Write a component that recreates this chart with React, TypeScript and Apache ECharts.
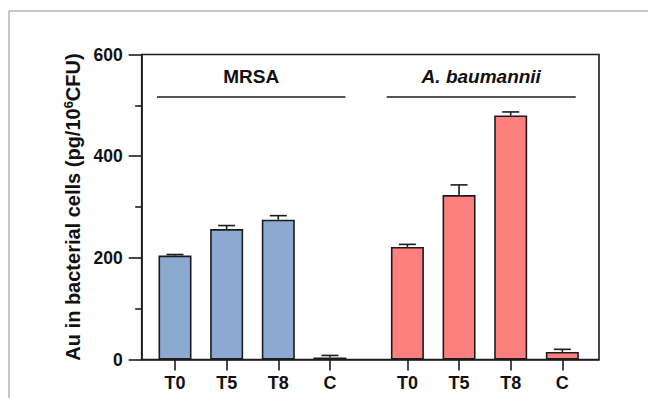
import React, { useEffect, useRef } from "react";
import * as echarts from "echarts";

const categories = ["T0", "T5", "T8", "C", "T0", "T5", "T8", "C"];
const positions = [0, 1, 2, 3, 4.5, 5.5, 6.5, 7.5];
const mrsaMeans = [204.5, 256.5, 275, 4];
const mrsaErrors = [2, 7, 8, 4];
const abauMeans = [221.5, 323.5, 480, 15];
const abauErrors = [5, 20, 7, 5];
const groupNames = ["MRSA", "A. baumannii"];
const groupSpans = [
  [-0.35, 3.3],
  [4.1, 7.76],
];
const groupLineY = 517;
const yTicks = [0, 200, 400, 600];

const BLUE = "#8BA9D1";
const RED = "#FF7F7F";
const INK = "#1c1c1c";
const FONT = "'Liberation Sans', Arial, Helvetica, sans-serif";

export default function App() {
  const ref = useRef<HTMLDivElement>(null);
  useEffect(() => {
    if (!ref.current) return;
    const chart = echarts.init(ref.current, null, { renderer: "svg" });
    const means = [...mrsaMeans, ...abauMeans];
    const errs = [...mrsaErrors, ...abauErrors];
    const barData = positions.map((x, i) => ({
      value: [x, means[i]],
      itemStyle: { color: i < 4 ? BLUE : RED },
    }));
    const errData = positions.map((x, i) => [x, means[i], errs[i]]);
    const labelFor = (v: number) => {
      const idx = positions.findIndex((p) => Math.abs(p - v) < 1e-6);
      return idx >= 0 ? categories[idx] : "";
    };
    chart.setOption({
      animation: false,
      textStyle: { fontFamily: FONT },
      grid: {
        left: 141.7,
        right: 49,
        top: 54.5,
        bottom: 38.5,
        show: true,
        borderColor: INK,
        borderWidth: 1.6,
        backgroundColor: "transparent",
      },
      graphic: [
        {
          type: "line",
          shape: { x1: 9, y1: 11, x2: 648, y2: 11 },
          style: { stroke: "#b5b5b5", lineWidth: 1.5 },
        },
        {
          type: "line",
          shape: { x1: 9, y1: 11, x2: 9, y2: 398 },
          style: { stroke: "#b5b5b5", lineWidth: 1.5 },
        },
      ],
      xAxis: {
        type: "value",
        min: -0.645,
        max: 8.21,
        splitLine: { show: false },
        axisLine: { show: true, onZero: false, lineStyle: { color: INK, width: 1.6 } },
        axisTick: {
          show: true,
          length: 11,
          customValues: positions,
          lineStyle: { color: INK, width: 1.6 },
        },
        axisLabel: {
          customValues: positions,
          formatter: (v: number) => labelFor(v),
          fontSize: 18,
          fontWeight: "bold",
          color: "#111",
          margin: 14,
          fontFamily: FONT,
        },
      },
      yAxis: {
        type: "value",
        min: 0,
        max: 600,
        interval: 200,
        splitLine: { show: false },
        axisLine: { show: true, onZero: false, lineStyle: { color: INK, width: 1.6 } },
        axisTick: { show: true, length: 13, lineStyle: { color: INK, width: 1.6 } },
        minorTick: { show: true, splitNumber: 2, length: 6.5, lineStyle: { color: INK, width: 1.6 } },
        axisLabel: {
          fontSize: 17.5,
          fontWeight: "bold",
          color: "#111",
          margin: 19,
          fontFamily: FONT,
          formatter: (v: number) => (yTicks.includes(v) ? String(v) : ""),
        },
        name: "Au in bacterial cells (pg/10{sup|6}CFU)",
        nameLocation: "middle",
        nameGap: 58,
        nameTextStyle: {
          fontSize: 20,
          fontWeight: "bold",
          color: "#111",
          fontFamily: FONT,
          rich: {
            sup: {
              fontSize: 13,
              fontWeight: "bold",
              color: "#111",
              fontFamily: FONT,
              padding: [0, 0, 9, 0],
            },
          },
        },
      },
      series: [
        {
          type: "bar",
          data: barData,
          barWidth: 33,
          itemStyle: { borderColor: INK, borderWidth: 1.6 },
          z: 2,
        },
        {
          type: "custom",
          data: errData,
          z: 3,
          renderItem: (params: any, api: any) => {
            const x = api.value(0);
            const m = api.value(1);
            const e = api.value(2);
            const base = api.coord([x, m]);
            const top = api.coord([x, m + e]);
            const half = 8.5;
            return {
              type: "group",
              children: [
                {
                  type: "line",
                  shape: { x1: base[0], y1: base[1], x2: top[0], y2: top[1] },
                  style: { stroke: INK, lineWidth: 1.6 },
                },
                {
                  type: "line",
                  shape: { x1: top[0] - half, y1: top[1], x2: top[0] + half, y2: top[1] },
                  style: { stroke: INK, lineWidth: 1.6 },
                },
              ],
            };
          },
        },
        {
          type: "scatter",
          data: [],
          silent: true,
          markLine: {
            silent: true,
            symbol: ["none", "none"],
            lineStyle: { color: INK, width: 1.6, type: "solid" },
            data: groupSpans.map((s, i) => [
              {
                coord: [s[0], groupLineY],
                label: {
                  show: true,
                  position: "middle",
                  formatter: groupNames[i],
                  fontSize: 19,
                  fontWeight: "bold",
                  fontStyle: i === 1 ? "italic" : "normal",
                  color: "#111",
                  fontFamily: FONT,
                  distance: 11,
                },
              },
              { coord: [s[1], groupLineY] },
            ]),
          },
        },
      ],
    });
    return () => chart.dispose();
  }, []);
  return (
    <div
      ref={ref}
      style={{ position: "absolute", left: 0, top: 0, width: 648, height: 398, background: "#fff" }}
    />
  );
}
